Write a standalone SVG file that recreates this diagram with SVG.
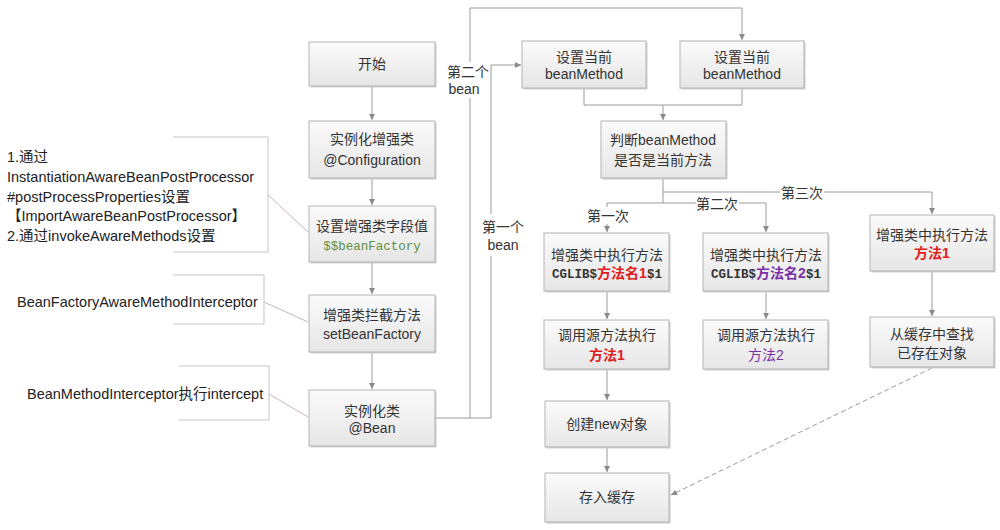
<svg xmlns="http://www.w3.org/2000/svg" width="1000" height="530" viewBox="0 0 1000 530">
<style>
.box{fill:url(#g);stroke:#b4b4b4;stroke-width:1}
.sh{fill:#d0d0d0}
.t{font-family:"Liberation Sans","Noto Sans CJK SC",sans-serif;font-size:14px;fill:#333;text-anchor:middle}
.m{font-family:"Liberation Mono","Noto Sans CJK SC",monospace;font-size:12.5px}
.a{font-family:"Liberation Sans","Noto Sans CJK SC",sans-serif;font-size:14.5px;fill:#222}
.ln{fill:none;stroke:#9a9a9a;stroke-width:1}
.br{fill:none;stroke:#c4c4c4;stroke-width:1}
.dg{fill:none;stroke:#c9b2b8;stroke-width:1}
.red{fill:#e02020}
.pur{fill:#7a30a8}
.grn{fill:#5e8e3e}
.wb{fill:#fff}
</style>
<defs>
<linearGradient id="g" x1="0" y1="0" x2="0" y2="1">
<stop offset="0" stop-color="#fbfbfb"/>
<stop offset="1" stop-color="#e6e6e6"/>
</linearGradient>
<marker id="ar" markerWidth="8" markerHeight="8" refX="7" refY="4" orient="auto" markerUnits="userSpaceOnUse">
<path d="M1,1 L7,4 L1,7 Z" fill="#8a8a8a"/>
</marker>
</defs>
<rect width="1000" height="530" fill="#fff"/>

<g id="annotations">
<path class="br" d="M173,137 H268 V252 H173"/>
<path class="dg" d="M268,195 L308,232"/>
<text class="a" x="7" y="162">1.通过</text>
<text class="a" x="7" y="182">InstantiationAwareBeanPostProcessor</text>
<text class="a" x="7" y="202">#postProcessProperties设置</text>
<text class="a" x="7" y="221">【ImportAwareBeanPostProcessor】</text>
<text class="a" x="7" y="241">2.通过invokeAwareMethods设置</text>
<path class="br" d="M173,275 H264 V324 H173"/>
<path class="dg" d="M264,302 L308,322"/>
<text class="a" x="17" y="307">BeanFactoryAwareMethodInterceptor</text>
<path class="br" d="M179,366 H269 V420 H179"/>
<path class="dg" d="M269,394 L308,417"/>
<text class="a" x="27" y="399">BeanMethodInterceptor执行intercept</text>
</g>

<g id="connectors">
<path class="ln" d="M372,86 V120" marker-end="url(#ar)"/>
<path class="ln" d="M372,178 V205" marker-end="url(#ar)"/>
<path class="ln" d="M372,262 V294" marker-end="url(#ar)"/>
<path class="ln" d="M372,352 V389" marker-end="url(#ar)"/>
<path class="ln" d="M435,418 H491"/>
<path class="ln" d="M470,418 V8 H742 V40" marker-end="url(#ar)"/>
<path class="ln" d="M491,418 V65 H521" marker-end="url(#ar)"/>
<rect class="wb" x="446" y="62" width="43" height="36"/>
<text class="t" x="468" y="77">第二个</text>
<text class="t" x="464" y="94">bean</text>
<rect class="wb" x="481" y="214" width="44" height="42"/>
<text class="t" x="503" y="232">第一个</text>
<text class="t" x="503" y="250">bean</text>
<path class="ln" d="M584,88 V105 H742 V88"/>
<path class="ln" d="M663,105 V120" marker-end="url(#ar)"/>
<path class="ln" d="M663,178 V203"/>
<path class="ln" d="M663,192 H932 V214" marker-end="url(#ar)"/>
<path class="ln" d="M607,203 H766 V232" marker-end="url(#ar)"/>
<path class="ln" d="M607,203 V232" marker-end="url(#ar)"/>
<rect class="wb" x="780" y="184" width="44" height="17"/>
<text class="t" x="802" y="198">第三次</text>
<rect class="wb" x="696" y="195" width="43" height="17"/>
<text class="t" x="717" y="209">第二次</text>
<rect class="wb" x="586" y="207" width="44" height="17"/>
<text class="t" x="608" y="221">第一次</text>
<path class="ln" d="M607,291 V319" marker-end="url(#ar)"/>
<path class="ln" d="M766,291 V319" marker-end="url(#ar)"/>
<path class="ln" d="M932,271 V316" marker-end="url(#ar)"/>
<path class="ln" d="M607,369 V400" marker-end="url(#ar)"/>
<path class="ln" d="M607,447 V472" marker-end="url(#ar)"/>
<path class="ln" d="M932,368 L671,495" stroke-dasharray="5,3" marker-end="url(#ar)"/>
</g>

<g id="start">
<rect class="sh" x="310.5" y="43.5" width="126" height="44"/>
<rect class="box" x="309" y="42" width="126" height="44"/>
<text class="t" x="372" y="69">开始</text>
</g>
<g id="config">
<rect class="sh" x="310.5" y="122.5" width="126" height="57"/>
<rect class="box" x="309" y="121" width="126" height="57"/>
<text class="t" x="372" y="144">实例化增强类</text>
<text class="t" x="372" y="165">@Configuration</text>
</g>
<g id="setfield">
<rect class="sh" x="310.5" y="207.5" width="126" height="56"/>
<rect class="box" x="309" y="206" width="126" height="56"/>
<text class="t" x="372" y="231">设置增强类字段值</text>
<text class="t m grn" x="372" y="250">$$beanFactory</text>
</g>
<g id="intercept">
<rect class="sh" x="310.5" y="296.5" width="126" height="57"/>
<rect class="box" x="309" y="295" width="126" height="57"/>
<text class="t" x="372" y="320">增强类拦截方法</text>
<text class="t" x="372" y="339">setBeanFactory</text>
</g>
<g id="bean">
<rect class="sh" x="310.5" y="391.5" width="126" height="56"/>
<rect class="box" x="309" y="390" width="126" height="56"/>
<text class="t" x="372" y="416">实例化类</text>
<text class="t" x="372" y="433">@Bean</text>
</g>
<g id="setbm1">
<rect class="sh" x="523.5" y="42.5" width="124" height="47"/>
<rect class="box" x="522" y="41" width="124" height="47"/>
<text class="t" x="584" y="62">设置当前</text>
<text class="t" x="584" y="79">beanMethod</text>
</g>
<g id="setbm2">
<rect class="sh" x="681.5" y="42.5" width="124" height="47"/>
<rect class="box" x="680" y="41" width="124" height="47"/>
<text class="t" x="742" y="62">设置当前</text>
<text class="t" x="742" y="79">beanMethod</text>
</g>
<g id="judge">
<rect class="sh" x="602.5" y="122.5" width="125" height="57"/>
<rect class="box" x="601" y="121" width="125" height="57"/>
<text class="t" x="663" y="145">判断beanMethod</text>
<text class="t" x="663" y="165">是否是当前方法</text>
</g>
<g id="exec1">
<rect class="sh" x="545.5" y="234.5" width="125" height="58"/>
<rect class="box" x="544" y="233" width="125" height="58"/>
<text class="t" x="607" y="260">增强类中执行方法</text>
<text class="t" x="607" y="278"><tspan class="m" font-weight="bold">CGLIB$</tspan><tspan class="red" font-weight="bold">方法名1</tspan><tspan class="m" font-weight="bold">$1</tspan></text>
</g>
<g id="exec2">
<rect class="sh" x="704.5" y="234.5" width="125" height="58"/>
<rect class="box" x="703" y="233" width="125" height="58"/>
<text class="t" x="766" y="260">增强类中执行方法</text>
<text class="t" x="766" y="278"><tspan class="m" font-weight="bold">CGLIB$</tspan><tspan class="pur" font-weight="bold">方法名2</tspan><tspan class="m" font-weight="bold">$1</tspan></text>
</g>
<g id="exec3">
<rect class="sh" x="871.5" y="216.5" width="124" height="56"/>
<rect class="box" x="870" y="215" width="124" height="56"/>
<text class="t" x="932" y="240">增强类中执行方法</text>
<text class="t red" x="932" y="258" font-weight="bold">方法1</text>
</g>
<g id="call1">
<rect class="sh" x="545.5" y="321.5" width="125" height="49"/>
<rect class="box" x="544" y="320" width="125" height="49"/>
<text class="t" x="607" y="340">调用源方法执行</text>
<text class="t red" x="607" y="360" font-weight="bold">方法1</text>
</g>
<g id="call2">
<rect class="sh" x="704.5" y="321.5" width="125" height="49"/>
<rect class="box" x="703" y="320" width="125" height="49"/>
<text class="t" x="766" y="340">调用源方法执行</text>
<text class="t pur" x="766" y="360">方法2</text>
</g>
<g id="cache">
<rect class="sh" x="871.5" y="318.5" width="124" height="50"/>
<rect class="box" x="870" y="317" width="124" height="50"/>
<text class="t" x="932" y="339">从缓存中查找</text>
<text class="t" x="932" y="358">已存在对象</text>
</g>
<g id="create">
<rect class="sh" x="546.5" y="402.5" width="124" height="46"/>
<rect class="box" x="545" y="401" width="124" height="46"/>
<text class="t" x="607" y="429">创建new对象</text>
</g>
<g id="store">
<rect class="sh" x="546.5" y="474.5" width="124" height="49"/>
<rect class="box" x="545" y="473" width="124" height="49"/>
<text class="t" x="607" y="502">存入缓存</text>
</g>
</svg>
